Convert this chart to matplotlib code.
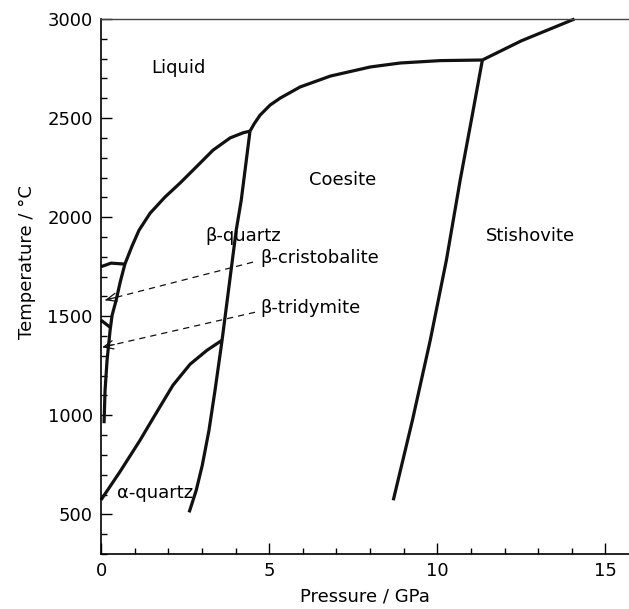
import numpy as np
import matplotlib.pyplot as plt
from matplotlib.ticker import MultipleLocator

# phase boundaries of SiO2 (pressure GPa, temperature C)
beta_qtz_left_p = [0.09, 0.12, 0.18, 0.27, 0.33, 0.45, 0.57, 0.71, 0.92, 1.13, 1.46,
                   1.90, 2.35, 2.86, 3.33, 3.84, 4.23, 4.43]
beta_qtz_left_t = [960, 1126, 1278, 1429, 1505, 1581, 1672, 1763, 1853, 1934, 2020,
                   2101, 2172, 2258, 2338, 2400, 2426, 2434]

coesite_liq_p = [4.43, 4.55, 4.73, 5.03, 5.33, 5.92, 6.82, 8.01, 8.90, 10.09, 11.34]
coesite_liq_t = [2434, 2470, 2515, 2566, 2601, 2657, 2712, 2758, 2778, 2790, 2793]

stish_liq_p = [11.34, 12.5, 14.08]
stish_liq_t = [2793, 2890, 3000]

coesite_stish_p = [8.69, 9.26, 9.79, 10.27, 10.68, 11.04, 11.34]
coesite_stish_t = [571, 975, 1379, 1783, 2187, 2515, 2793]

qtz_coesite_p = [4.43, 4.17, 4.02, 3.60, 3.39, 3.21, 3.01, 2.83, 2.62]
qtz_coesite_t = [2434, 2086, 1934, 1379, 1126, 924, 747, 621, 510]

alpha_beta_p = [0.0, 0.57, 1.16, 1.46, 1.76, 2.14, 2.65, 3.15, 3.60]
alpha_beta_t = [573, 717, 874, 960, 1045, 1152, 1258, 1328, 1379]

crist_liq_p = [0.0, 0.3, 0.71]
crist_liq_t = [1750, 1768, 1763]

trid_crist_p = [0.0, 0.28]
trid_crist_t = [1480, 1443]

# labelled pointers: label, label position, dashed tail, arrow tip
pointer_labels = ['β-cristobalite', 'β-tridymite']
pointer_text_xy = [(4.73, 1793), (4.73, 1540)]
pointer_tail = [(4.52, 1773), (4.58, 1520)]
pointer_tip = [(0.12, 1581), (0.03, 1343)]

region_labels = ['Liquid', 'β-quartz', 'Coesite', 'Stishovite', 'α-quartz']
region_xy = [(2.29, 2753), (4.23, 1904), (7.17, 2187), (12.77, 1904), (1.6, 606)]

fig = plt.figure(figsize=(6.29, 6.09), dpi=100)
ax = fig.add_axes([0.1606, 0.0903, 0.8394, 0.8785])

lw = 2.3
for p, t in [(beta_qtz_left_p, beta_qtz_left_t), (coesite_liq_p, coesite_liq_t),
             (stish_liq_p, stish_liq_t), (coesite_stish_p, coesite_stish_t),
             (qtz_coesite_p, qtz_coesite_t), (alpha_beta_p, alpha_beta_t),
             (crist_liq_p, crist_liq_t), (trid_crist_p, trid_crist_t)]:
    ax.plot(p, t, color='#111111', lw=lw, solid_capstyle='butt',
            solid_joinstyle='round', clip_on=False)

for lab, txy, tail, tip in zip(pointer_labels, pointer_text_xy, pointer_tail, pointer_tip):
    ax.plot([tail[0], tip[0]], [tail[1], tip[1]], color='#111111', lw=0.9, ls=(0, (5, 4)))
    # short solid stub only to carry the open arrow head
    dx, dy = tail[0] - tip[0], tail[1] - tip[1]
    ax.annotate('', xy=tip, xytext=(tip[0] + 0.08 * dx, tip[1] + 0.08 * dy),
                arrowprops=dict(arrowstyle='->,head_length=0.7,head_width=0.3',
                                color='#111111', lw=0.9, shrinkA=0, shrinkB=0))
    ax.text(txy[0], txy[1], lab, fontsize=13, ha='left', va='center')

for lab, xy in zip(region_labels, region_xy):
    ax.text(xy[0], xy[1], lab, fontsize=13, ha='center', va='center')

ax.set_xlim(0, 15.7)
ax.set_ylim(300, 3000)
ax.xaxis.set_major_locator(MultipleLocator(5))
ax.xaxis.set_minor_locator(MultipleLocator(1))
ax.yaxis.set_major_locator(MultipleLocator(500))
ax.yaxis.set_minor_locator(MultipleLocator(100))
ax.set_yticks([500, 1000, 1500, 2000, 2500, 3000])
ax.tick_params(which='both', direction='in', width=1.0, labelsize=13)
ax.tick_params(which='major', length=8, pad=6)
ax.tick_params(which='minor', length=4.5)
ax.tick_params(axis='x', which='both', top=False)
ax.tick_params(axis='y', which='both', right=False)

ax.spines['right'].set_visible(False)
ax.spines['left'].set_linewidth(1.2)
ax.spines['bottom'].set_linewidth(1.2)
ax.spines['top'].set_linewidth(1.0)
ax.spines['top'].set_color('#444444')

ax.set_xlabel('Pressure / GPa', fontsize=13)
ax.set_ylabel('Temperature / °C', fontsize=13)
ax.xaxis.set_label_coords(0.5, -0.062)
ax.yaxis.set_label_coords(-0.123, 0.545)

plt.savefig('out.png', dpi=100)
